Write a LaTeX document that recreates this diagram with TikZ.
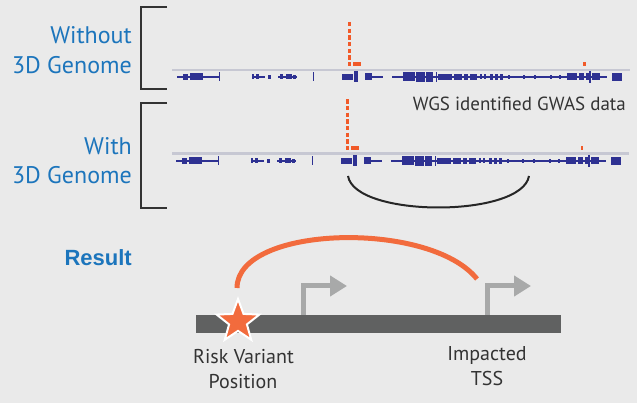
\documentclass[tikz,border=0pt]{standalone}
\usepackage{fontspec}
\setmainfont{PT Sans}
\newfontfamily\resfont{Liberation Sans}
\usetikzlibrary{shapes.geometric,arrows.meta}
\definecolor{bg}{HTML}{EAEAEA}
\definecolor{lblue}{HTML}{1C75BC}
\definecolor{genes}{HTML}{2E3192}
\definecolor{trackgray}{HTML}{C7C8D3}
\definecolor{gwas}{HTML}{F15A29}
\definecolor{riskorange}{HTML}{F26B3D}
\definecolor{bardark}{HTML}{606161}
\definecolor{arrowgray}{HTML}{A8A9A9}
\definecolor{txt}{HTML}{333333}
\newcommand{\gbox}[3]{\fill[genes] (#1,{-(#3)/2}) rectangle (#2,{(#3)/2});}
\newcommand{\genetrack}{%
\gbox{176.5}{219}{2}\gbox{183}{188}{6}\gbox{190}{203}{7}\gbox{218.5}{220}{9}%
\gbox{252}{265}{2}\gbox{252}{254}{5}\gbox{256}{259}{5}\gbox{268}{271}{4}%
\gbox{278}{297}{2}\gbox{280}{283}{5}\gbox{286}{292}{5}\gbox{293}{296}{4}%
\gbox{312.5}{314}{9}%
\gbox{342}{353}{6}\gbox{353.5}{357.5}{11}\gbox{365}{372}{7}\gbox{372}{383}{2}%
\gbox{392}{607}{2}\gbox{403}{415}{9}\gbox{416}{425}{10}\gbox{426}{433}{10}%
\gbox{435.5}{437}{10}\gbox{438}{452}{6}\gbox{454}{462}{6}\gbox{464}{468}{6}%
\gbox{470}{477}{6}\gbox{480}{482}{5}\gbox{484}{486}{5}\gbox{490}{493}{6}%
\gbox{495}{498}{6}\gbox{500}{503}{6}%
\gbox{508}{510}{4}\gbox{523}{525}{4}\gbox{534}{536}{4}\gbox{550}{552}{4}\gbox{559}{561}{4}%
\gbox{567}{577}{7}\gbox{579}{584}{7}\gbox{586}{590}{7}\gbox{589}{590.5}{12}%
\gbox{592}{600}{7}\gbox{612}{622}{8}}
\tikzset{
  sidelabel/.style={font=\fontsize{24}{24}\selectfont, text=lblue, inner sep=0pt, anchor=base east},
  smalltext/.style={font=\fontsize{20}{20}\selectfont, text=txt, inner sep=0pt, anchor=base},
  bracketline/.style={draw=txt, line width=1.3pt},
  trackline/.style={draw=trackgray, line width=2.5pt},
  gwasdots/.style={draw=gwas, line width=3pt, dash pattern=on 4.3pt off 2.4pt},
  tssarrow/.style={draw=arrowgray, line width=5pt, line join=miter, -{Triangle[length=17pt,width=20pt]}}
}
\begin{document}
\begin{tikzpicture}[x=1pt,y=-1pt]
\fill[bg] (0,0) rectangle (637,403);
\useasboundingbox (0,0) rectangle (637,403);
% brackets
\coordinate (b1a) at (167,7); \coordinate (b1b) at (141,7);
\coordinate (b1c) at (141,89); \coordinate (b1d) at (167,89);
\draw[bracketline] (b1a) -- (b1b) -- (b1c) -- (b1d);
\coordinate (b2a) at (167,103); \coordinate (b2b) at (141,103);
\coordinate (b2c) at (141,208); \coordinate (b2d) at (167,208);
\draw[bracketline] (b2a) -- (b2b) -- (b2c) -- (b2d);
% labels
\node[sidelabel] (without) at (132,44) {Without};
\node[sidelabel] (genome1) at (132,73.3) {3D Genome};
\node[sidelabel] (with) at (132,154.3) {With};
\node[sidelabel] (genome2) at (132,183.3) {3D Genome};
\node[font=\resfont\bfseries\fontsize{22}{22}\selectfont, text=lblue, inner sep=0pt, anchor=base east] (result) at (132,265.7) {Result};
\node[font=\fontsize{19}{19}\selectfont, text=txt, inner sep=0pt, anchor=base east] (wgs) at (626,110.7) {WGS identified GWAS data};
% track 1
\coordinate (t1L) at (172,70); \coordinate (t1R) at (630,70);
\draw[trackline] (t1L) -- (t1R);
\begin{scope}[shift={(0,77)}]\genetrack\end{scope}
\coordinate (g1top) at (349.5,22); \coordinate (g1bot) at (349.5,61);
\draw[gwasdots] (g1top) -- (g1bot);
\fill[gwas] (347.5,62.3) rectangle (351,66);
\fill[gwas] (353,62.3) rectangle (360.7,66);
\fill[gwas] (582.7,62.3) rectangle (586,66.5);
% track 2
\coordinate (t2L) at (172,153.5); \coordinate (t2R) at (629,153.5);
\draw[trackline] (t2L) -- (t2R);
\begin{scope}[shift={(-1,160.7)}]\genetrack\end{scope}
\coordinate (g2top) at (347.5,99.3); \coordinate (g2bot) at (347.5,145);
\draw[gwasdots] (g2top) -- (g2bot);
\fill[gwas] (345.5,146) rectangle (349,150.5);
\fill[gwas] (351,146) rectangle (358.5,150.5);
\fill[gwas] (580.7,146) rectangle (583.3,150.5);
\coordinate (loopL) at (348,176); \coordinate (loopR) at (529,176);
\draw[black!85, line width=2pt] (loopL) .. controls (355,218) and (522,218) .. (loopR);
% result diagram
\coordinate (tss1base) at (303,316); \coordinate (tss1tip) at (347,286);
\coordinate (tss2base) at (487,316); \coordinate (tss2tip) at (531,286);
\draw[tssarrow] (tss1base) |- (tss1tip);
\draw[tssarrow] (tss2base) |- (tss2tip);
\node[fill=bardark, minimum width=365pt, minimum height=18pt, inner sep=0pt, anchor=north west] (bar) at (196,315) {};
\node[star, star points=5, star point ratio=2.4, minimum size=45pt, inner sep=0pt, fill=riskorange, draw=white, line width=2pt] (risk) at (238,321.5) {};
\coordinate (arcL) at (237,288); \coordinate (arcR) at (477,279);
\draw[riskorange, line width=5pt] (arcL) .. controls (237,225) and (430,220) .. (arcR);
\node[smalltext] (riskvar) at (243.5,363.3) {Risk Variant};
\node[smalltext] (position) at (243,388.3) {Position};
\node[smalltext] (impacted) at (487,360) {Impacted};
\node[smalltext] (tss) at (487,385) {TSS};
\end{tikzpicture}
\end{document}
